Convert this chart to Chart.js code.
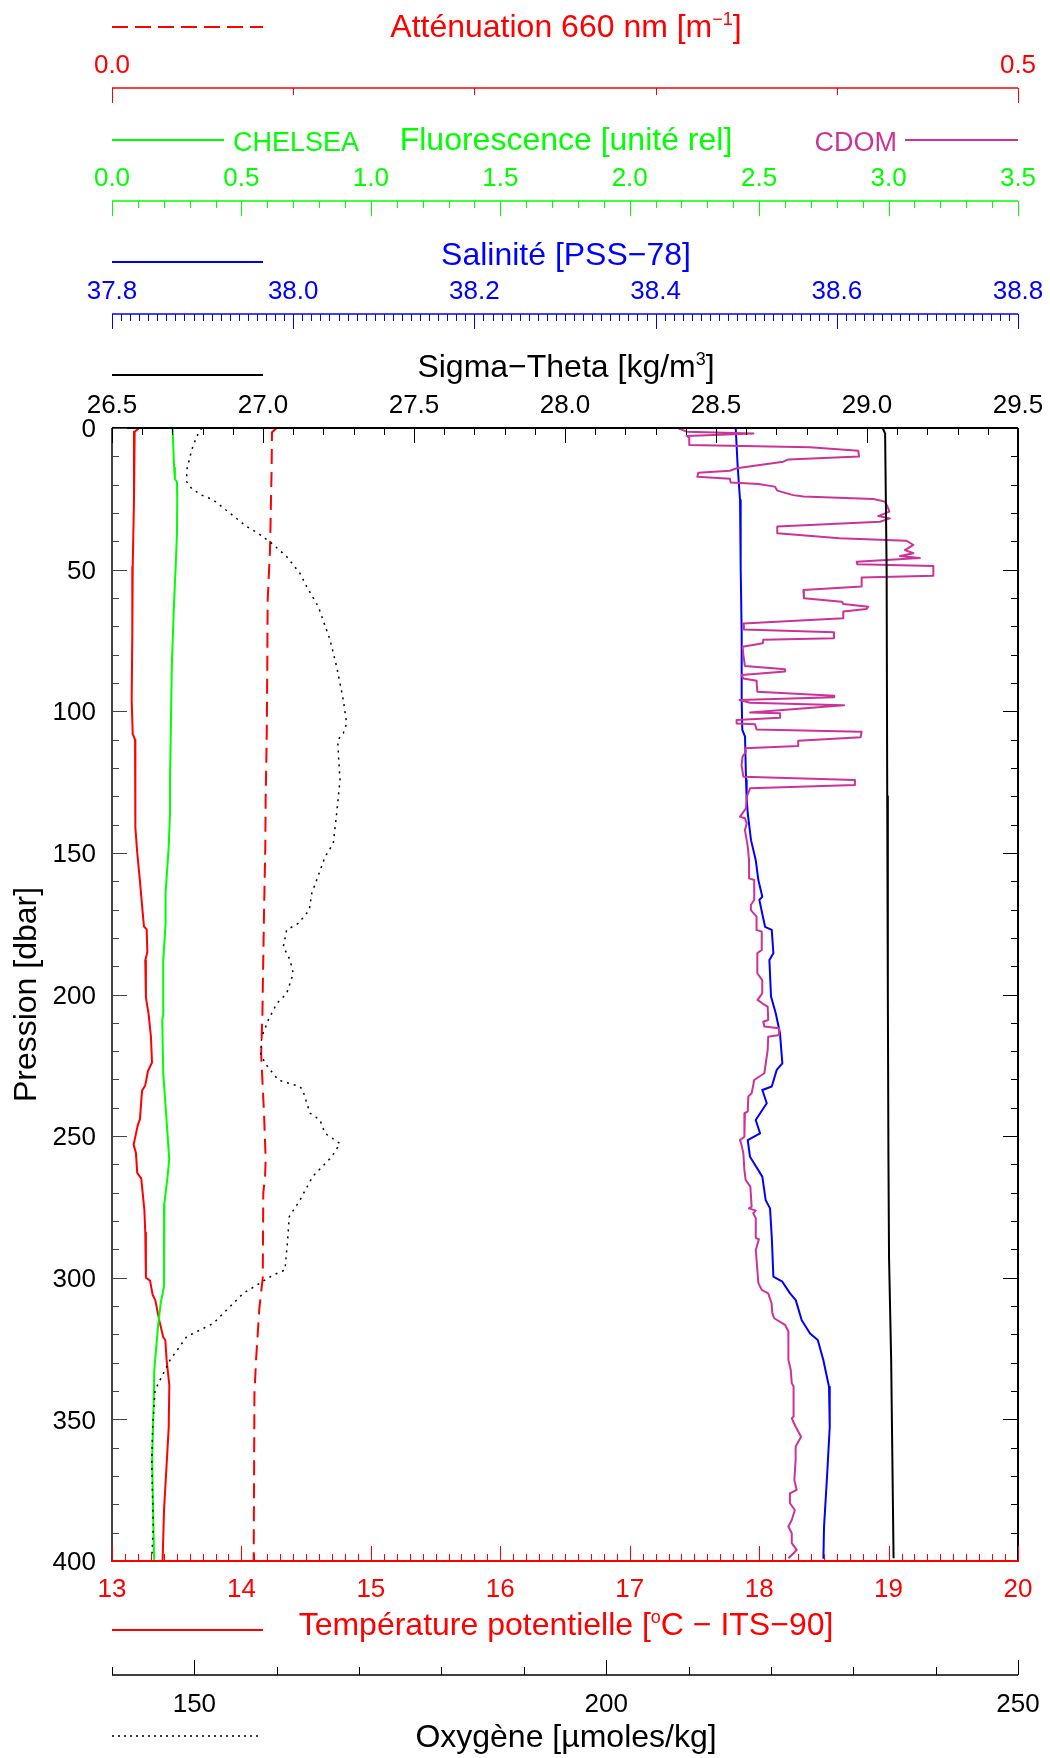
<!DOCTYPE html>
<html><head><meta charset="utf-8">
<script src="https://cdn.jsdelivr.net/npm/chart.js@4.4.1/dist/chart.umd.min.js"></script>
<style>html,body{margin:0;padding:0;background:#fff;}#wrap{width:1050px;height:1758px;}</style>
</head><body><div id="wrap"><canvas id="c" width="1050" height="1758"></canvas></div>
<script>
// ---------- tick labels ----------
const presTicks = ['0','50','100','150','200','250','300','350','400'];
const sigTicks  = ['26.5','27.0','27.5','28.0','28.5','29.0','29.5'];
const salTicks  = ['37.8','38.0','38.2','38.4','38.6','38.8'];
const fluoTicks = ['0.0','0.5','1.0','1.5','2.0','2.5','3.0','3.5'];
const attTicks  = ['0.0','0.5'];
const tempTicks = ['13','14','15','16','17','18','19','20'];
const oxyTicks  = ['150','200','250'];

// ---------- axis ranges ----------
const presRange = [0, 400];
const sigRange  = [26.5, 29.5];
const salRange  = [37.8, 38.8];
const fluoRange = [0, 3.5];
const attRange  = [0, 0.5];
const tempRange = [13, 20];
const oxyRange  = [140, 250];

// ---------- series ----------
const tempP = [0,1.3,25,49,72,96,108,110,124,141,150,160,171,176,177,185,188,201,207,215,224,227,232,234,244,246,253,256,263,265,276,284,300,301,306,308,315,321,322,329,338,353,370,382,400];
const tempV = [13.21,13.175,13.17,13.16,13.157,13.152,13.16,13.178,13.178,13.183,13.195,13.216,13.237,13.247,13.268,13.273,13.257,13.262,13.283,13.301,13.309,13.278,13.257,13.232,13.216,13.20,13.167,13.185,13.195,13.226,13.25,13.257,13.262,13.294,13.314,13.335,13.365,13.396,13.412,13.422,13.443,13.438,13.417,13.402,13.391];

const fluoP = [0,7,14,18,19,25,37,49,61,84,108,124,136,148,164,175,188,207,209,228,242,254,258,264,274,303,309,317,333,341,364,388,400];
const fluoV = [0.234,0.237,0.240,0.243,0.251,0.252,0.251,0.246,0.240,0.231,0.227,0.224,0.224,0.219,0.207,0.207,0.198,0.198,0.194,0.198,0.209,0.218,0.221,0.215,0.202,0.201,0.188,0.178,0.163,0.162,0.155,0.160,0.163];

const attP = [0,1.5,14,43,61,84,108,131,148,171,207,221,242,258,264,270,300,311,329,341,400];
const attV = [0.0909,0.0883,0.0881,0.0872,0.0859,0.0857,0.0854,0.0848,0.0846,0.0839,0.0830,0.0823,0.0839,0.0848,0.0845,0.0835,0.0832,0.0813,0.0795,0.0786,0.0782];

const oxyP = [0,3,7.8,14.9,19,21.4,23.7,25.4,30.1,34.8,37.2,40.7,45.4,51.3,56,63.1,74.8,84.3,96,104.3,107.8,110.2,114.9,124.3,136,146.6,151.4,159.6,164.3,170.2,174.9,177.2,183.1,187.8,192.6,199.6,203.2,209,214.9,220.8,224.3,230.2,232.5,233.7,241.9,244.3,249,252.6,257.3,264.3,272.6,278.4,287.9,297.3,299,305.5,310.2,316.1,320.8,329.1,339.7,352.7,364.4,388,399.2];
const oxyV = [150.89,150.28,149.67,149.07,149.07,149.67,150.89,152.30,154.33,156.35,157.76,159.39,161.21,162.82,163.64,165.05,166.47,167.28,168.08,168.49,168.08,167.40,167.48,167.68,167.28,166.87,165.86,164.85,164.25,163.95,162.62,161.21,160.80,161.61,162.01,161.21,159.99,158.98,158.18,158.05,158.58,160.19,162.82,163.15,164.04,165.25,165.86,167.68,166.67,164.35,162.82,161.53,161.29,161.00,159.59,155.94,154.33,152.30,149.07,147.04,145.22,144.94,144.82,145.01,144.82];

const salP = [0,13.6,25.4,49,72.5,96,106.6,109,124.3,130.7,136,145.5,152.5,159.6,165.5,166.6,176.1,177.2,185.4,187.8,200.7,206.6,213.7,224.3,226.6,232.5,233.7,238.4,244.3,249,251.4,257.3,264.3,272.6,275.5,285.5,299.6,301.4,305.5,307.9,315,319.7,322,329.1,338.5,352.7,370.3,388,399.2];
const salV = [38.4884,38.4906,38.4932,38.4939,38.495,38.495,38.4957,38.4987,38.4998,38.5005,38.5017,38.5053,38.5105,38.5134,38.5178,38.5145,38.5208,38.5282,38.5300,38.5256,38.5274,38.5326,38.5373,38.5399,38.5337,38.5282,38.5178,38.5227,38.5105,38.5153,38.5017,38.5042,38.5178,38.5215,38.5263,38.5282,38.5300,38.5399,38.5484,38.5547,38.5613,38.5705,38.5790,38.5852,38.5914,38.5922,38.5892,38.5859,38.5852];

const sigP = [0,2,50,130,200,258,293,329,399];
const sigV = [29.052,29.060,29.065,29.067,29.069,29.071,29.073,29.080,29.088];

const cdomP = [0.1,1.3,1.9,2.8,3.3,6.0,6.8,8.0,10.1,11.1,11.9,14.2,15.1,15.8,17.2,17.9,19.2,19.8,20.7,22.1,23.7,24.2,25.1,26.0,28.4,29.5,31.1,31.9,33.1,34.8,37.2,38.9,39.8,41.3,43.1,44.2,45.2,45.9,47.2,48.1,48.7,52.2,52.8,56.0,57.2,60.1,61.3,62.1,63.1,63.9,64.8,67.2,69.0,71.1,72.1,74.2,74.8,76.0,77.2,80.1,84.0,85.2,86.0,87.2,88.4,89.2,93.1,94.5,95.1,96.0,97.0,97.9,100.4,100.7,102.3,103.1,104.3,104.6,106.4,107.2,109.2,110.4,112.3,113.1,114.3,116.0,119.0,123.1,124.3,126.0,127.2,130.1,134.3,137.2,137.8,139.6,141.9,147.8,152.5,159.0,159.6,166.6,168.4,170.2,172.5,177.2,177.8,184.3,185.4,192.5,194.9,199.6,201.9,203.1,204.3,209.0,209.6,211.3,211.9,214.3,214.9,219.6,227.8,230.2,234.9,236.0,241.3,241.9,250.2,251.4,253.1,256.1,261.9,265.5,267.8,274.9,275.5,276.3,277.2,279.0,286.0,286.4,290.2,301.9,304.3,305.5,309.0,312.5,314.3,316.6,319.0,329.0,332.5,337.2,338.4,349.0,349.6,352.6,356.1,359.6,364.3,371.4,374.9,376.1,379.6,382.0,385.5,387.8,390.2,393.7,396.1,399.0];
const cdomV = [2.188,2.220,2.478,2.220,2.230,2.230,2.696,2.883,2.886,2.613,2.593,2.413,2.387,2.265,2.261,2.387,2.390,2.497,2.561,2.570,2.632,2.671,2.941,2.986,2.999,3.003,2.960,3.005,2.967,2.570,2.570,2.810,3.070,3.096,3.063,3.096,3.044,3.121,2.877,2.879,3.173,3.173,2.896,2.896,2.671,2.673,2.819,2.825,2.922,2.915,2.825,2.825,2.439,2.441,2.789,2.789,2.516,2.514,2.436,2.439,2.445,2.600,2.600,2.432,2.439,2.490,2.493,2.790,2.790,2.424,2.465,2.828,2.465,2.581,2.581,2.413,2.413,2.484,2.490,2.896,2.892,2.651,2.651,2.445,2.449,2.436,2.432,2.439,2.870,2.870,2.465,2.452,2.449,2.426,2.445,2.452,2.445,2.456,2.461,2.461,2.481,2.481,2.468,2.468,2.490,2.490,2.510,2.510,2.493,2.493,2.512,2.512,2.494,2.512,2.533,2.535,2.516,2.520,2.577,2.577,2.535,2.533,2.520,2.481,2.471,2.458,2.456,2.445,2.443,2.426,2.432,2.439,2.443,2.448,2.466,2.471,2.461,2.487,2.477,2.487,2.487,2.499,2.487,2.497,2.510,2.535,2.548,2.551,2.558,2.600,2.613,2.613,2.622,2.626,2.633,2.633,2.626,2.641,2.662,2.641,2.641,2.636,2.645,2.619,2.619,2.638,2.626,2.613,2.626,2.626,2.645,2.613];

// ---------- helpers ----------
const pts = (P, V) => P.map((p, i) => ({x: V[i], y: p}));
const FF = '"Liberation Sans", Arial, Helvetica, sans-serif';
const fnt = s => s + 'px ' + FF;
const RED = '#ff0000', GREEN = '#00ff00', BLUE = '#0000ff', MAG = 'rgb(204,51,153)', BLK = '#000000';

function richText(ctx, parts, cx, y, size, color) {
  const supSize = Math.round(size * 0.55);
  let total = 0;
  parts.forEach(p => { ctx.font = fnt(p.sup ? supSize : size); total += ctx.measureText(p.t).width; });
  let x = cx - total / 2;
  ctx.fillStyle = color; ctx.textAlign = 'left'; ctx.textBaseline = 'alphabetic';
  parts.forEach(p => {
    ctx.font = fnt(p.sup ? supSize : size);
    ctx.fillText(p.t, x, p.sup ? y - size * 0.38 : y);
    x += ctx.measureText(p.t).width;
  });
}
function hLine(ctx, x1, x2, y, color, w, dash) {
  ctx.save(); ctx.strokeStyle = color; ctx.lineWidth = w; ctx.setLineDash(dash || []);
  ctx.beginPath(); ctx.moveTo(x1, y); ctx.lineTo(x2, y); ctx.stroke(); ctx.restore();
}
function isMul(v, step) { const r = v / step; return Math.abs(r - Math.round(r)) < 1e-6; }
function hTicks(ctx, scale, range, step, majorStep, y, dir, majLen, minLen, color) {
  const n = Math.round((range[1] - range[0]) / step);
  ctx.save(); ctx.strokeStyle = color; ctx.lineWidth = 1;
  for (let i = 0; i <= n; i++) {
    const v = range[0] + i * step;
    const x = Math.round(scale.getPixelForValue(v)) + 0.5;
    const len = isMul(v, majorStep) ? majLen : minLen;
    ctx.beginPath(); ctx.moveTo(x, y); ctx.lineTo(x, y + dir * len); ctx.stroke();
  }
  ctx.restore();
}
function hLabels(ctx, scale, labels, y, color, size) {
  ctx.save(); ctx.font = fnt(size); ctx.fillStyle = color; ctx.textAlign = 'center'; ctx.textBaseline = 'alphabetic';
  labels.forEach(s => ctx.fillText(s, scale.getPixelForValue(parseFloat(s)), y));
  ctx.restore();
}

const axesPlugin = {
  id: 'profileAxes',
  afterDraw(chart) {
    const ctx = chart.ctx, ca = chart.chartArea, S = chart.scales;
    const L = ca.left, R = ca.right, T = ca.top, B = ca.bottom;
    const cx = 566;
    ctx.save();
    // ---- frame ----
    hLine(ctx, L, R, T, BLK, 2);
    ctx.strokeStyle = '#444'; ctx.lineWidth = 2; ctx.beginPath(); ctx.moveTo(L, T); ctx.lineTo(L, B); ctx.stroke();
    ctx.strokeStyle = BLK; ctx.beginPath(); ctx.moveTo(R, T); ctx.lineTo(R, B); ctx.stroke();
    // pressure ticks (left & right, inward)
    ctx.lineWidth = 1;
    for (let p = presRange[0]; p <= presRange[1]; p += 10) {
      const y = Math.round(S.y.getPixelForValue(p)) + 0.5;
      const len = (p % 50 === 0) ? 15 : 7;
      ctx.strokeStyle = '#444'; ctx.beginPath(); ctx.moveTo(L, y); ctx.lineTo(L + len, y); ctx.stroke();
      ctx.strokeStyle = BLK; ctx.beginPath(); ctx.moveTo(R, y); ctx.lineTo(R - len, y); ctx.stroke();
    }
    ctx.font = fnt(26); ctx.fillStyle = BLK; ctx.textAlign = 'right'; ctx.textBaseline = 'middle';
    presTicks.forEach(s => ctx.fillText(s, 96, S.y.getPixelForValue(parseFloat(s)) + 2));
    // sigma ticks (top, inward)
    hTicks(ctx, S.xSig, sigRange, 0.1, 0.5, T, 1, 15, 7, BLK);
    hLabels(ctx, S.xSig, sigTicks, 413, BLK, 26);
    // temperature (bottom axis, red)
    hTicks(ctx, S.xT, tempRange, 0.1, 1, B, -1, 15, 7, RED);
    hLine(ctx, L - 1, R + 1, B, RED, 2);
    hLabels(ctx, S.xT, tempTicks, 1597, RED, 26);
    // ---- attenuation axis ----
    hLine(ctx, L, R, 88, RED, 1.5);
    hTicks(ctx, S.xA, attRange, 0.1, 0.5, 88, 1, 15, 7, RED);
    hLabels(ctx, S.xA, attTicks, 73, RED, 26);
    hLine(ctx, L, 263, 27, RED, 2, [16, 7]);
    richText(ctx, [{t: 'Atténuation 660 nm [m'}, {t: '\u22121', sup: true}, {t: ']'}], cx, 37, 32, RED);
    // ---- fluorescence axis ----
    hLine(ctx, L, R, 201, GREEN, 1.5);
    hTicks(ctx, S.xF, fluoRange, 0.1, 0.5, 201, 1, 15, 7, GREEN);
    hLabels(ctx, S.xF, fluoTicks, 186, GREEN, 26);
    hLine(ctx, L, 224, 140, GREEN, 2);
    hLine(ctx, 905, R, 140, MAG, 2);
    ctx.font = fnt(27); ctx.textBaseline = 'alphabetic';
    ctx.fillStyle = GREEN; ctx.textAlign = 'left'; ctx.fillText('CHELSEA', 233, 151);
    ctx.fillStyle = MAG; ctx.textAlign = 'right'; ctx.fillText('CDOM', 897, 151);
    richText(ctx, [{t: 'Fluorescence [unité rel]'}], cx, 150, 32, GREEN);
    // ---- salinity axis ----
    hLine(ctx, L, R, 314, BLUE, 1.5);
    hTicks(ctx, S.xS, salRange, 0.01, 0.2, 314, 1, 15, 7, BLUE);
    hLabels(ctx, S.xS, salTicks, 299, BLUE, 26);
    hLine(ctx, L, 263, 262, BLUE, 2);
    richText(ctx, [{t: 'Salinité [PSS\u221278]'}], cx, 265, 32, BLUE);
    // ---- sigma title ----
    hLine(ctx, L, 263, 375, BLK, 2);
    richText(ctx, [{t: 'Sigma\u2212Theta [kg/m'}, {t: '3', sup: true}, {t: ']'}], cx, 377, 32, BLK);
    // ---- temperature title ----
    hLine(ctx, L, 263, 1630, RED, 2);
    richText(ctx, [{t: 'Température potentielle ['}, {t: 'o', sup: true}, {t: 'C \u2212 ITS\u221290]'}], cx, 1635, 32, RED);
    // ---- oxygen axis ----
    hLine(ctx, L, R, 1675, BLK, 1.5);
    hTicks(ctx, S.xO, oxyRange, 10, 50, 1675, -1, 15, 8, BLK);
    hLabels(ctx, S.xO, oxyTicks, 1712, BLK, 26);
    hLine(ctx, L, 259, 1736, BLK, 1.5, [2, 4]);
    richText(ctx, [{t: 'Oxygène [µmoles/kg]'}], cx, 1747, 32, BLK);
    // ---- pressure title ----
    ctx.save(); ctx.translate(36, (T + B) / 2); ctx.rotate(-Math.PI / 2);
    ctx.font = fnt(32); ctx.fillStyle = BLK; ctx.textAlign = 'center'; ctx.textBaseline = 'alphabetic';
    ctx.fillText('Pression [dbar]', 0, 0); ctx.restore();
    ctx.restore();
  }
};

const common = {showLine: true, pointRadius: 0, fill: false, tension: 0, borderJoinStyle: 'round', yAxisID: 'y'};
const hid = (min, max) => ({type: 'linear', axis: 'x', min, max, display: false});

new Chart(document.getElementById('c'), {
  type: 'scatter',
  data: {datasets: [
    Object.assign({label: 'Sigma-Theta', data: pts(sigP, sigV), xAxisID: 'xSig', borderColor: BLK, borderWidth: 2}, common),
    Object.assign({label: 'CDOM', data: pts(cdomP, cdomV), xAxisID: 'xF', borderColor: MAG, borderWidth: 2}, common),
    Object.assign({label: 'Salinité', data: pts(salP, salV), xAxisID: 'xS', borderColor: BLUE, borderWidth: 2}, common),
    Object.assign({label: 'Oxygène', data: pts(oxyP, oxyV), xAxisID: 'xO', borderColor: BLK, borderWidth: 1.5, borderDash: [2, 5]}, common),
    Object.assign({label: 'Atténuation', data: pts(attP, attV), xAxisID: 'xA', borderColor: RED, borderWidth: 2, borderDash: [15, 8]}, common),
    Object.assign({label: 'CHELSEA', data: pts(fluoP, fluoV), xAxisID: 'xF', borderColor: GREEN, borderWidth: 2}, common),
    Object.assign({label: 'Température', data: pts(tempP, tempV), xAxisID: 'xT', borderColor: RED, borderWidth: 2}, common)
  ]},
  options: {
    responsive: false, animation: false, devicePixelRatio: 1,
    layout: {padding: {left: 112, top: 428, right: 32, bottom: 197}},
    plugins: {legend: {display: false}, tooltip: {enabled: false}},
    scales: {
      y: {type: 'linear', axis: 'y', reverse: true, min: presRange[0], max: presRange[1], display: false},
      x: hid(0, 1),
      xT: hid(tempRange[0], tempRange[1]),
      xO: hid(oxyRange[0], oxyRange[1]),
      xA: hid(attRange[0], attRange[1]),
      xF: hid(fluoRange[0], fluoRange[1]),
      xS: hid(salRange[0], salRange[1]),
      xSig: hid(sigRange[0], sigRange[1])
    }
  },
  plugins: [axesPlugin]
});
</script></body></html>
